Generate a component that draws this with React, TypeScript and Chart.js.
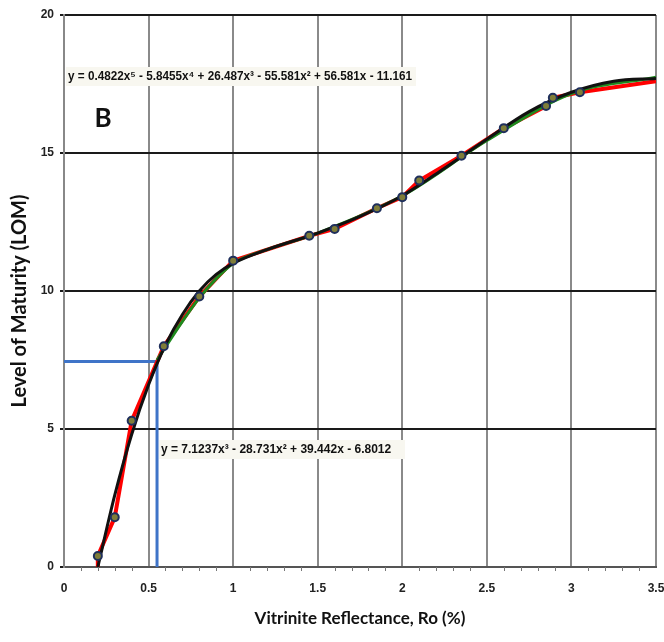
import React, { useEffect, useRef } from 'react';
import { Chart, registerables } from 'chart.js';
Chart.register(...registerables);

// Measured samples (Ro %, LOM)
const roData = [0.2, 0.3, 0.4, 0.59, 0.8, 1.0, 1.45, 1.6, 1.85, 2.0, 2.1, 2.35, 2.6, 2.85, 2.89, 3.05];
const lomData = [0.4, 1.8, 5.3, 8.0, 9.8, 11.1, 12.0, 12.25, 13.0, 13.4, 14.0, 14.9, 15.9, 16.7, 17.0, 17.2];

// Red line (through samples, extended to the right edge)
const redX = [0.2, 0.2, 0.3, 0.4, 0.59, 0.8, 1.0, 1.45, 1.6, 1.85, 2.0, 2.1, 2.35, 2.6, 2.85, 2.89, 3.05, 3.5];
const redY = [0.0, 0.4, 1.8, 5.3, 8.0, 9.8, 11.1, 12.0, 12.25, 13.0, 13.4, 14.0, 14.9, 15.9, 16.7, 17.0, 17.2, 17.6];

// Green trend curve
const greenX = [0.55, 0.7, 0.8, 0.9, 1.0, 1.2, 1.5, 2.0, 2.5, 3.0, 3.5];
const greenY = [7.5, 8.9, 9.75, 10.45, 11.0, 11.5, 12.1, 13.45, 15.45, 17.15, 17.75];

// Black trend curve
const blackX = [0.2, 0.3, 0.4, 0.5, 0.6, 0.7, 0.8, 0.9, 1.0, 1.2, 1.5, 1.75, 2.0, 2.25, 2.5, 2.75, 3.0, 3.25, 3.5];
const blackY = [0.0, 2.6, 4.8, 6.6, 8.05, 9.15, 10.0, 10.6, 11.0, 11.5, 12.1, 12.7, 13.45, 14.45, 15.5, 16.5, 17.2, 17.6, 17.7];

// Blue guide line (Ro = 0.55 -> LOM 7.45)
const blueX = [0, 0.55, 0.55];
const blueY = [7.45, 7.45, 0];

const xTickValues = [0, 0.5, 1, 1.5, 2, 2.5, 3, 3.5];
const yTickValues = [0, 5, 10, 15, 20];

const eqTop = 'y = 0.4822x\u2075 - 5.8455x\u2074 + 26.487x\u00B3 - 55.581x\u00B2 + 56.581x - 11.161';
const eqBottom = 'y = 7.1237x\u00B3 - 28.731x\u00B2 + 39.442x - 6.8012';
const panelLabel = 'B';
const xTitle = 'Vitrinite Reflectance, Ro (%)';
const yTitle = 'Level of Maturity (LOM)';

const zip = (xs: number[], ys: number[]) => xs.map((x, i) => ({ x, y: ys[i] }));

const decorPlugin = {
  id: 'decor',
  beforeDatasetsDraw(chart: any) {
    const ctx = chart.ctx;
    ctx.save();
    // equation boxes
    ctx.fillStyle = '#f8f7f0';
    ctx.fillRect(66, 67, 350, 19);
    ctx.fillRect(159, 440, 246, 19);
    ctx.fillStyle = '#111';
    ctx.textBaseline = 'middle';
    ctx.textAlign = 'left';
    ctx.font = 'bold 12px "Liberation Sans Narrow", "Liberation Sans", sans-serif';
    ctx.fillText(eqTop, 68, 77, 344);
    ctx.fillText(eqBottom, 161, 450, 240);
    // panel label
    ctx.textAlign = 'center';
    ctx.font = 'bold 26px Lato, "Open Sans", sans-serif';
    ctx.fillText(panelLabel, 103, 119);
    ctx.restore();
  },
  afterDraw(chart: any) {
    const ctx = chart.ctx;
    const xs = chart.scales.x;
    const area = chart.chartArea;
    ctx.save();
    // minor ticks on x axis
    ctx.strokeStyle = '#777';
    ctx.lineWidth = 1;
    for (let i = 1; i < 35; i++) {
      if (i % 5 === 0) continue;
      const px = Math.round(xs.getPixelForValue(i / 10)) + 0.5;
      ctx.beginPath();
      ctx.moveTo(px, area.bottom);
      ctx.lineTo(px, area.bottom + 4);
      ctx.stroke();
    }
    // axis titles
    ctx.fillStyle = '#111';
    ctx.textAlign = 'center';
    ctx.textBaseline = 'middle';
    ctx.font = 'bold 17px Lato, "Open Sans", sans-serif';
    ctx.fillText(xTitle, 360, 619, 252);
    ctx.translate(20, 301);
    ctx.rotate(-Math.PI / 2);
    ctx.font = 'bold 20px Lato, "Open Sans", sans-serif';
    ctx.fillText(yTitle, 0, 0, 294);
    ctx.restore();
  },
};

export default function App() {
  const ref = useRef<HTMLCanvasElement | null>(null);
  useEffect(() => {
    document.body.style.margin = '0';
    const canvas = ref.current;
    if (!canvas) return;
    const chart = new Chart(canvas, {
      type: 'line',
      data: {
        datasets: [
          {
            label: 'samples',
            data: zip(roData, lomData),
            showLine: false,
            pointRadius: 4,
            pointBorderWidth: 2,
            pointBorderColor: '#1f2f5c',
            pointBackgroundColor: '#7f7d38',
            order: 0,
          },
          {
            label: 'black',
            data: zip(blackX, blackY),
            borderColor: '#111111',
            borderWidth: 3,
            pointRadius: 0,
            cubicInterpolationMode: 'monotone',
            order: 1,
          },
          {
            label: 'green',
            data: zip(greenX, greenY),
            borderColor: '#1e8a1e',
            borderWidth: 3,
            pointRadius: 0,
            cubicInterpolationMode: 'monotone',
            order: 2,
          },
          {
            label: 'red',
            data: zip(redX, redY),
            borderColor: '#ff0000',
            borderWidth: 4,
            pointRadius: 0,
            tension: 0,
            order: 3,
          },
          {
            label: 'blue',
            data: zip(blueX, blueY),
            borderColor: '#3f74c8',
            borderWidth: 3,
            pointRadius: 0,
            tension: 0,
            order: 4,
          },
        ],
      },
      options: {
        animation: false,
        responsive: false,
        maintainAspectRatio: false,
        layout: { padding: { top: 15, right: 8, left: 0, bottom: 0 } },
        plugins: { legend: { display: false }, tooltip: { enabled: false } },
        scales: {
          x: {
            type: 'linear',
            min: 0,
            max: 3.5,
            afterBuildTicks: (s: any) => {
              s.ticks = xTickValues.map((v) => ({ value: v }));
            },
            ticks: {
              callback: (v: any) => String(v),
              font: { family: '"Liberation Sans Narrow", "Liberation Sans", sans-serif', size: 12, weight: 'bold' },
              color: '#222',
              padding: 14,
              maxRotation: 0,
            },
            grid: { color: '#8a8a8a', lineWidth: 2, tickLength: 0 },
            border: { color: '#555', width: 2 },
            afterFit: (s: any) => {
              s.height = 75;
              s.paddingLeft = 0;
              s.paddingRight = 0;
            },
          },
          y: {
            type: 'linear',
            min: 0,
            max: 20,
            afterBuildTicks: (s: any) => {
              s.ticks = yTickValues.map((v) => ({ value: v }));
            },
            ticks: {
              callback: (v: any) => String(v),
              font: { family: '"Liberation Sans Narrow", "Liberation Sans", sans-serif', size: 12, weight: 'bold' },
              color: '#222',
              padding: 6,
            },
            grid: { color: '#1a1a1a', lineWidth: 2, tickLength: 4 },
            border: { color: '#888', width: 2 },
            afterFit: (s: any) => {
              s.width = 64;
              s.paddingTop = 0;
              s.paddingBottom = 0;
            },
          },
        },
      } as any,
      plugins: [decorPlugin],
    });
    return () => chart.destroy();
  }, []);
  return (
    <div style={{ width: 664, height: 642, background: '#fff' }}>
      <canvas ref={ref} width={664} height={642} style={{ display: 'block' }} />
    </div>
  );
}
